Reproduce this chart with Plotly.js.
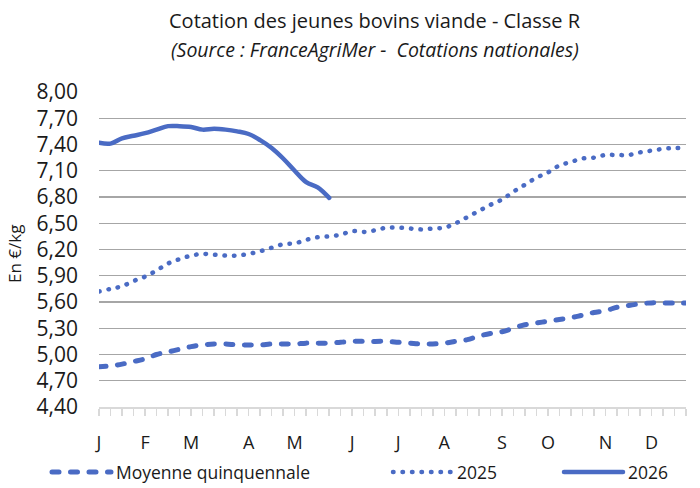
<!DOCTYPE html>
<html>
<head>
<meta charset="utf-8">
<script src="https://cdn.plot.ly/plotly-3.0.1.min.js"></script>
<style>
html,body{margin:0;padding:0;background:#fff;}
#chart{width:700px;height:488px;}
path.js-line{stroke-linecap:round !important;}
</style>
</head>
<body>
<div id="chart"></div>
<script>
// Weeks 1..52
const weeks = Array.from({length: 52}, (_, i) => i + 1);
const monthWeeks = [1, 5, 9, 14, 18, 23, 27, 31, 36, 40, 45, 49];
const monthLabels = ['J', 'F', 'M', 'A', 'M', 'J', 'J', 'A', 'S', 'O', 'N', 'D'];
const seriesNames = ['Moyenne quinquennale', '2025', '2026'];

const moyenne = [4.86, 4.87, 4.89, 4.92, 4.95, 5.00, 5.03, 5.06, 5.09, 5.11,
  5.12, 5.12, 5.11, 5.11, 5.11, 5.12, 5.12, 5.12, 5.13, 5.13,
  5.13, 5.14, 5.15, 5.15, 5.15, 5.15, 5.14, 5.13, 5.12, 5.12,
  5.13, 5.15, 5.17, 5.21, 5.24, 5.26, 5.30, 5.34, 5.36, 5.38,
  5.40, 5.42, 5.45, 5.48, 5.50, 5.54, 5.56, 5.58, 5.59, 5.59,
  5.59, 5.59];
const y2025 = [5.72, 5.75, 5.78, 5.84, 5.89, 5.96, 6.04, 6.09, 6.13, 6.15,
  6.14, 6.13, 6.13, 6.15, 6.18, 6.22, 6.26, 6.27, 6.31, 6.34,
  6.35, 6.37, 6.41, 6.40, 6.42, 6.45, 6.45, 6.44, 6.43, 6.44,
  6.45, 6.50, 6.57, 6.64, 6.71, 6.77, 6.86, 6.94, 7.02, 7.08,
  7.16, 7.20, 7.24, 7.25, 7.28, 7.28, 7.28, 7.31, 7.33, 7.35,
  7.36, 7.36];
const y2026 = [7.42, 7.41, 7.47, 7.50, 7.53, 7.57, 7.61, 7.61, 7.60, 7.57,
  7.58, 7.57, 7.55, 7.52, 7.45, 7.36, 7.24, 7.10, 6.97, 6.91,
  6.79];

const blue = '#4a6bc4';
const font = '"Open Sans", sans-serif';
const txt = '#1a1a1a';

const traces = [
  {x: weeks, y: moyenne, name: seriesNames[0], type: 'scatter', mode: 'lines',
   line: {color: blue, width: 5, dash: '7px,11.5px', shape: 'spline', smoothing: 1},
   legend: 'legend', hoverinfo: 'skip'},
  {x: weeks, y: y2025, name: seriesNames[1], type: 'scatter', mode: 'lines',
   line: {color: blue, width: 4.5, dash: '0.5px,9px', shape: 'spline', smoothing: 1},
   legend: 'legend2', hoverinfo: 'skip'},
  {x: weeks.slice(0, y2026.length), y: y2026, name: seriesNames[2], type: 'scatter', mode: 'lines',
   line: {color: blue, width: 4.5, shape: 'spline', smoothing: 1},
   legend: 'legend3', hoverinfo: 'skip'}
];

const legBase = {orientation: 'h', yanchor: 'middle', y: -(472 - 407) / 315, xanchor: 'left',
  font: {family: font, size: 17.5, color: txt}, bgcolor: 'rgba(0,0,0,0)',
  itemwidth: 59, tracegroupgap: 0, maxheight: 300};

const layout = {
  width: 700, height: 488,
  margin: {l: 99, r: 14, t: 92, b: 81, autoexpand: false},
  paper_bgcolor: '#fff', plot_bgcolor: '#fff',
  separators: ', ',
  showlegend: true,
  legend: Object.assign({}, legBase, {x: (47 - 99) / 587}),
  legend2: Object.assign({}, legBase, {x: (388 - 99) / 587}),
  legend3: Object.assign({}, legBase, {x: (559 - 99) / 587}),
  xaxis: {
    range: [1, 52], type: 'linear',
    tickmode: 'array', tickvals: monthWeeks, ticktext: monthLabels,
    ticks: 'outside', ticklen: 7, tickwidth: 1.5, tickcolor: '#d9d9d9',
    minor: {dtick: 1, tick0: 1, ticks: 'outside', ticklen: 7, tickwidth: 1.5, tickcolor: '#d9d9d9', showgrid: false},
    showline: true, linecolor: '#d9d9d9', linewidth: 2,
    showgrid: false, zeroline: false, automargin: false,
    ticklabelstandoff: 11,
    tickfont: {family: font, size: 18, color: txt}
  },
  yaxis: {
    range: [4.4, 8.0], tick0: 4.4, dtick: 0.3, tickformat: '.2f',
    showgrid: true, gridcolor: '#a6a6a6', gridwidth: 1.2,
    zeroline: false, showline: false, ticks: '', automargin: false,
    ticklabelstandoff: 20,
    tickfont: {family: font, size: 21, color: txt}
  },
  annotations: [
    {text: 'Cotation des jeunes bovins viande - Classe R', xref: 'paper', yref: 'paper',
     x: (375 - 99) / 587, y: 1 + (92 - 21) / 315, xanchor: 'center', yanchor: 'middle',
     showarrow: false, font: {family: font, size: 20, color: txt}},
    {text: '<i>(Source : FranceAgriMer -  Cotations nationales)</i>', xref: 'paper', yref: 'paper',
     x: (375 - 99) / 587, y: 1 + (92 - 49) / 315, xanchor: 'center', yanchor: 'middle',
     showarrow: false, font: {family: font, size: 19.5, color: txt}},
    {text: 'En €/kg', xref: 'paper', yref: 'paper', textangle: -90,
     x: (15 - 99) / 587, y: (407 - 254) / 315, xanchor: 'center', yanchor: 'middle',
     showarrow: false, font: {family: font, size: 17, color: txt}}
  ]
};

Plotly.newPlot('chart', traces, layout, {displayModeBar: false, staticPlot: true});
</script>
</body>
</html>
